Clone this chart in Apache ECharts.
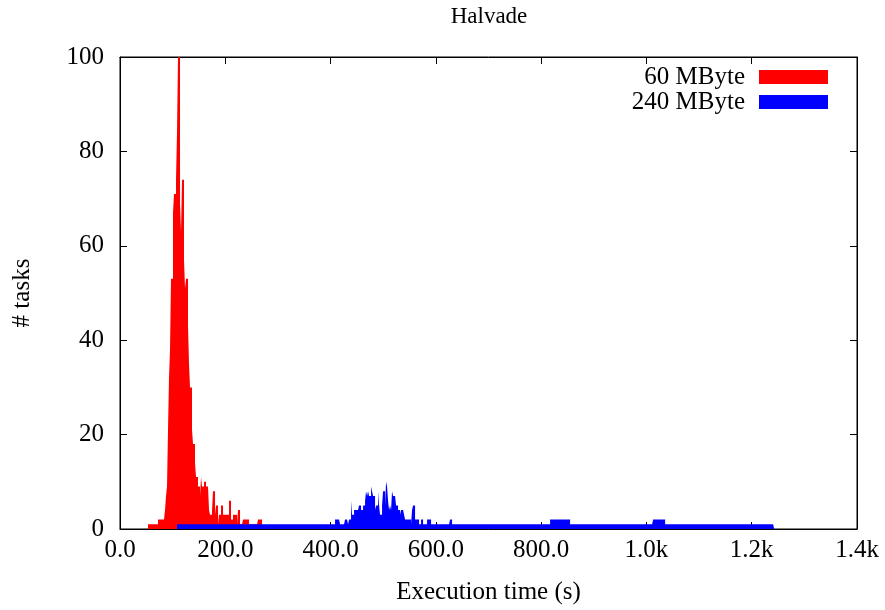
<!DOCTYPE html>
<html>
<head>
<meta charset="utf-8">
<script src="https://cdn.jsdelivr.net/npm/echarts@6/dist/echarts.min.js"></script>
<style>
html,body{margin:0;padding:0;background:#fff;overflow:hidden;}
#chart{width:885px;height:610px;}
</style>
</head>
<body>
<div id="chart"></div>
<script>
// ---- data ----
const titleText = 'Halvade';
const xAxisTitle = 'Execution time (s)';
const yAxisTitle = '# tasks';
const seriesNames = ['60 MByte', '240 MByte'];
const seriesColors = ['#ff0000', '#0000ff'];

const binWidth = 1.9;          // seconds per histogram bin
// 60 MByte: consecutive bins starting at redStart
const redStart = 53.2;
const redCounts = [
  1,1,1,1,1,1,1,1,1,1,
  2,2,2,2,2,2,2,
  4,7,9,21,32,38,53,53,67,71,71,74,84,100,100,
  69,63,74,74,57,51,53,53,43,35,30,30,21,18,18,14,11,11,9,9,
  7,11,9,9,10,10,9,9,9,4,3,3,4,8,8,3,5,5,1,3,3,5,5,
  3,3,3,3,3,3,6,6,2,2,3,3,3,3,1,4,4,1,1,1,
  2,2,2,2,2,2,
  1,1,1,1,1,1,1,1,1,
  2,2,2,2
];
// 240 MByte: runs of equal bin counts starting at blueStart
const blueStart = 108.3;
const blueRunCount = [1,2,1,2,1,2,6,3,4,5,4,5,6,8,7,8,7,9,8,7,4,5,8,5,3,5,8,5,10,9,6,4,5,4,8,7,5,4,3,4,3,2,1,4,5,2,1,2,1,2,1,2,1,2,1,2,1];
const blueRunBins  = [158,5,5,3,1,2,1,2,5,2,2,2,1,1,1,1,2,1,1,2,1,2,1,1,2,1,2,1,1,1,1,1,1,1,1,3,2,2,1,3,1,6,1,1,2,4,2,2,4,4,19,2,98,20,83,12,109];

const xTickValues = [0, 200, 400, 600, 800, 1000, 1200, 1400];
const xTickLabels = ['0.0', '200.0', '400.0', '600.0', '800.0', '1.0k', '1.2k', '1.4k'];
const yTickValues = [0, 20, 40, 60, 80, 100];
const yTickLabels = ['0', '20', '40', '60', '80', '100'];

// ---- build histogram step points [binStart, count], closed with [end, 0] ----
const blueCountsPerBin = [];
blueRunCount.forEach((c, k) => { for (let j = 0; j < blueRunBins[k]; j++) blueCountsPerBin.push(c); });

function stepPoints(start, counts) {
  const pts = counts.map((c, i) => [start + i * binWidth, c]);
  pts.push([start + counts.length * binWidth, 0]);
  return pts;
}
const redPoints = stepPoints(redStart, redCounts);
const bluePoints = stepPoints(blueStart, blueCountsPerBin);

const FONT = 'Liberation Serif';
const FS = 25;

const chart = echarts.init(document.getElementById('chart'), null, { renderer: 'canvas' });

const xLabelFmt = v => { const i = xTickValues.indexOf(v); return i >= 0 ? xTickLabels[i] : ''; };
const yLabelFmt = v => { const i = yTickValues.indexOf(v); return i >= 0 ? yTickLabels[i] : ''; };

const axisCommon = {
  axisLine: { show: true, onZero: false, lineStyle: { color: '#000', width: 1 } },
  axisTick: { show: true, inside: true, length: 7, lineStyle: { color: '#000', width: 1 } },
  splitLine: { show: false }
};

function histSeries(idx, pts, z) {
  return {
    name: seriesNames[idx], type: 'line', step: 'end',
    xAxisIndex: 0, yAxisIndex: 0,
    symbol: 'none', showSymbol: false,
    itemStyle: { color: seriesColors[idx] },
    lineStyle: { width: 0, color: seriesColors[idx] },
    areaStyle: { color: seriesColors[idx], opacity: 1, origin: 'start' },
    data: pts, z: z, silent: true
  };
}

chart.setOption({
  animation: false,
  backgroundColor: '#fff',
  graphic: [{
    type: 'text', x: 489, y: 17,
    style: { text: titleText, font: '23px "' + FONT + '"', fill: '#000', textAlign: 'center', textVerticalAlign: 'middle' }
  }],
  legend: {
    orient: 'vertical',
    right: 57, top: 64.5,
    padding: 0,
    align: 'right',
    itemWidth: 69, itemHeight: 14, itemGap: 0,
    icon: 'rect',
    textStyle: { fontFamily: FONT, fontSize: FS, lineHeight: 25, color: '#000', padding: [0, 9, 0, 0] },
    data: seriesNames.map((n, i) => ({ name: n, itemStyle: { color: seriesColors[i] } }))
  },
  grid: { left: 120, width: 737, top: 57, height: 477, show: true, borderColor: '#000', borderWidth: 1, containLabel: false },
  xAxis: [
    Object.assign({
      type: 'value', min: 0, max: 1400, interval: 200, position: 'bottom',
      name: xAxisTitle, nameLocation: 'middle', nameGap: 51,
      nameTextStyle: { fontFamily: FONT, fontSize: FS, color: '#000' },
      axisLabel: { formatter: xLabelFmt, fontFamily: FONT, fontSize: FS, color: '#000', margin: 9 }
    }, axisCommon),
    Object.assign({
      type: 'value', min: 0, max: 1400, interval: 200, position: 'top',
      axisLabel: { show: false }
    }, axisCommon)
  ],
  yAxis: [
    Object.assign({
      type: 'value', min: 0, max: 100, interval: 20, position: 'left',
      name: yAxisTitle, nameLocation: 'middle', nameGap: 85, nameRotate: 90,
      nameTextStyle: { fontFamily: FONT, fontSize: FS, color: '#000' },
      axisLabel: { formatter: yLabelFmt, fontFamily: FONT, fontSize: FS, color: '#000', margin: 16 }
    }, axisCommon),
    Object.assign({
      type: 'value', min: 0, max: 100, interval: 20, position: 'right',
      axisLabel: { show: false }
    }, axisCommon)
  ],
  series: [
    histSeries(0, redPoints, 2),
    histSeries(1, bluePoints, 3)
  ]
});
</script>
</body>
</html>
